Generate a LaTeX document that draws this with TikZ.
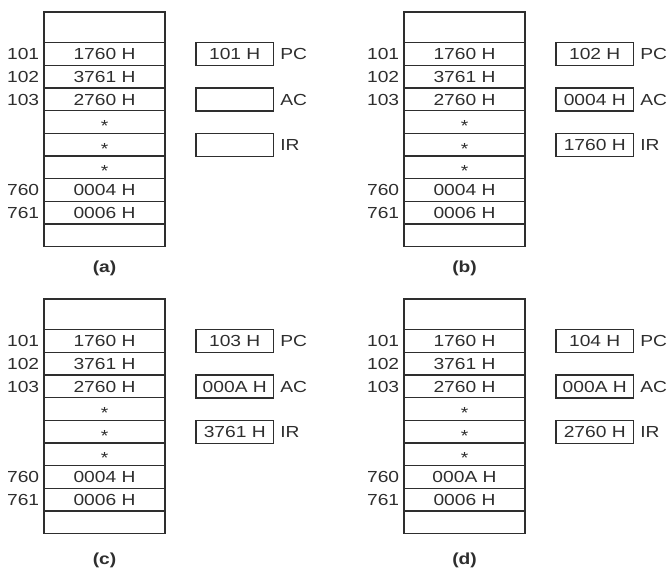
\documentclass[tikz,border=0pt]{standalone}
\usepackage{fontspec}
\setmainfont{Liberation Sans}[FakeStretch=1.2]
\definecolor{ink}{HTML}{2E2E2E}
\tikzset{
  txt/.style={text=ink, font=\fontsize{16}{18}\selectfont, inner sep=0pt},
  cell/.style={txt, draw=ink, line width=1.3pt, minimum width=121pt, minimum height=22.67pt,
    text height=11.6pt, text depth=0pt},
  topcell/.style={cell, minimum height=30.7pt},
  regbox/.style={cell, minimum width=77.5pt, minimum height=23pt},
  addr/.style={txt, anchor=east, text height=11.6pt, text depth=0pt},
  reglbl/.style={txt, anchor=west, text height=11.6pt, text depth=0pt},
  captionlbl/.style={txt, font=\fontsize{16}{18}\selectfont\bfseries}
}
\newcommand{\starcell}{\raisebox{-3.5pt}{*}}
% #1 prefix, #2 dx, #3 dy, #4 PC, #5 AC, #6 IR, #7 mem 760, #8 caption, #9 caption y
\newcommand{\mempanel}[9]{%
  \begin{scope}[shift={(#2,#3)}]
    \node[topcell] (#1m0) at (104.5,27.35) {};
    \node[cell] (#1m1) at (104.5,54.04) {1760 H};
    \node[cell] (#1m2) at (104.5,76.70) {3761 H};
    \node[cell] (#1m3) at (104.5,99.37) {2760 H};
    \node[cell] (#1m4) at (104.5,122.04) {\starcell};
    \node[cell] (#1m5) at (104.5,144.70) {\starcell};
    \node[cell] (#1m6) at (104.5,167.37) {\starcell};
    \node[cell] (#1m7) at (104.5,190.04) {#7};
    \node[cell] (#1m8) at (104.5,212.70) {0006 H};
    \node[cell] (#1m9) at (104.5,235.37) {};
    \node[addr] (#1a1) at ([xshift=-4pt]#1m1.west) {101};
    \node[addr] (#1a2) at ([xshift=-4pt]#1m2.west) {102};
    \node[addr] (#1a3) at ([xshift=-4pt]#1m3.west) {103};
    \node[addr] (#1a7) at ([xshift=-4pt]#1m7.west) {760};
    \node[addr] (#1a8) at ([xshift=-4pt]#1m8.west) {761};
    \node[regbox] (#1pc) at (234.75,54.04) {#4};
    \node[regbox] (#1ac) at (234.75,99.37) {#5};
    \node[regbox] (#1ir) at (234.75,144.70) {#6};
    \node[reglbl] (#1pcl) at ([xshift=6pt]#1pc.east) {PC};
    \node[reglbl] (#1acl) at ([xshift=6pt]#1ac.east) {AC};
    \node[reglbl] (#1irl) at ([xshift=6pt]#1ir.east) {IR};
    \node[captionlbl] (#1cap) at (104.5,#9) {(#8)};
  \end{scope}}
\begin{document}
\begin{tikzpicture}[x=1pt,y=-1pt]
  \useasboundingbox[fill=white] (0,0) rectangle (668,567);
  \mempanel{a}{0}{0}{101 H}{}{}{0004 H}{a}{268}
  \mempanel{b}{360}{0}{102 H}{0004 H}{1760 H}{0004 H}{b}{268}
  \mempanel{c}{0}{287}{103 H}{000A H}{3761 H}{0004 H}{c}{273}
  \mempanel{d}{360}{287}{104 H}{000A H}{2760 H}{000A H}{d}{273}
\end{tikzpicture}
\end{document}
